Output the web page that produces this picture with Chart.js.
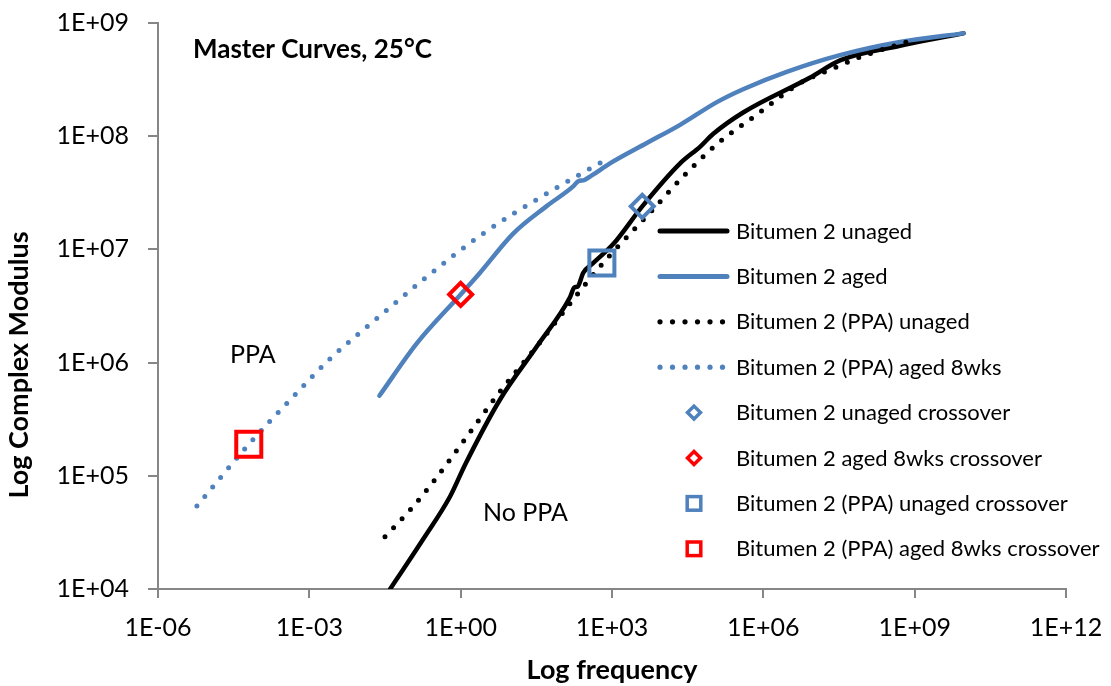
<!DOCTYPE html>
<html>
<head>
<meta charset="utf-8">
<title>Master Curves, 25°C</title>
<script src="https://cdn.jsdelivr.net/npm/chart.js@4.4.1/dist/chart.umd.min.js"></script>
<style>
  html, body { margin: 0; padding: 0; background: #fff; }
  #wrap { width: 1111px; height: 686px; position: relative; }
</style>
</head>
<body>
<div id="wrap"><canvas id="masterChart"></canvas></div>
<script>
// --- values ---
const xTicks = [1e-6, 1e-3, 1e0, 1e3, 1e6, 1e9, 1e12];
const yTicks = [1e4, 1e5, 1e6, 1e7, 1e8, 1e9];

const seriesNames = [
  'Bitumen 2 unaged',
  'Bitumen 2 aged',
  'Bitumen 2 (PPA) unaged',
  'Bitumen 2 (PPA) aged 8wks',
  'Bitumen 2 unaged crossover',
  'Bitumen 2 aged 8wks crossover',
  'Bitumen 2 (PPA) unaged crossover',
  'Bitumen 2 (PPA) aged 8wks crossover'
];

// Bitumen 2 unaged
const unagedFreq = [0.040, 0.072, 0.18, 0.62, 1.23, 6.0, 32, 148, 178, 209, 269, 427, 1070, 3980, 22400, 56200, 102000, 398000, 8.5e6, 3.4e7, 5.1e8, 9.3e9];
const unagedModulus = [1.0e4, 1.48e4, 2.75e4, 6.6e4, 1.26e5, 4.7e5, 1.38e6, 3.8e6, 4.6e6, 4.7e6, 6.2e6, 7.6e6, 1.12e7, 2.4e7, 5.75e7, 8.1e7, 1.05e8, 1.62e8, 3.3e8, 4.7e8, 6.3e8, 8.1e8];

// Bitumen 2 aged
const agedFreq = [0.0245, 0.135, 1, 2.4, 11, 50, 170, 214, 282, 398, 912, 4900, 22400, 120000, 398000, 2.9e6, 3.3e7, 5.1e8, 9.3e9];
const agedModulus = [5.1e5, 1.48e6, 4.0e6, 6.2e6, 1.38e7, 2.4e7, 3.6e7, 4.0e7, 4.1e7, 4.5e7, 5.75e7, 8.7e7, 1.26e8, 2.0e8, 2.6e8, 3.7e8, 5.2e8, 6.8e8, 8.1e8];

// Bitumen 2 (PPA) unaged
const ppaUnagedFreq = [0.0316, 0.1, 0.29, 1.12, 5.75, 34.7, 186, 537, 1700, 5620, 25700, 120000, 741000, 5.4e6, 2.9e7, 8.3e7, 6.9e8];
const ppaUnagedModulus = [2.9e4, 5.0e4, 8.9e4, 2.0e5, 5.4e5, 1.45e6, 3.8e6, 6.8e6, 1.2e7, 2.1e7, 4.4e7, 8.5e7, 1.55e8, 2.95e8, 4.1e8, 5.0e8, 6.8e8];

// Bitumen 2 (PPA) aged 8wks
const ppaAgedFreq = [5.9e-6, 6.3e-5, 5.0e-4, 2.4e-3, 3.1e-2, 0.18, 2.6, 44, 910];
const ppaAgedModulus = [5.4e4, 1.9e5, 5.1e5, 1.05e6, 2.8e6, 5.4e6, 1.35e7, 3.0e7, 6.5e7];

// crossover points, same order as the last four series names
const crossoverFreq = [3980, 1, 630, 6.3e-5];
const crossoverModulus = [2.4e7, 4.0e6, 7.6e6, 1.9e5];

const BLACK = '#000000';
const BLUE = '#4f81bd';
const RED = '#ff0000';
const AXIS_GREY = '#868686';
const FONT = 'Lato, "Open Sans", sans-serif';

function sci(v) {
    const e = Math.round(Math.log10(v));
    return '1E' + (e < 0 ? '-' : '+') + String(Math.abs(e)).padStart(2, '0');
}

function pts(xs, ys) {
    return xs.map((x, i) => ({ x: x, y: ys[i] }));
}

function lineSet(label, xs, ys, color, dotted, order) {
    return {
        label: label,
        data: pts(xs, ys),
        showLine: true,
        borderColor: color,
        backgroundColor: color,
        borderWidth: dotted ? 5 : 4.5,
        borderDash: dotted ? [0, 12.4] : [],
        borderCapStyle: 'round',
        borderJoinStyle: 'round',
        cubicInterpolationMode: 'monotone',
        pointRadius: 0,
        order: order
    };
}

function markerSet(i, color, style, radius) {
    return {
        label: seriesNames[4 + i],
        data: [{ x: crossoverFreq[i], y: crossoverModulus[i] }],
        showLine: false,
        pointStyle: style,
        pointRadius: radius,
        borderWidth: 4,
        borderColor: color,
        backgroundColor: 'rgba(0,0,0,0)',
        order: 1
    };
}

// legend + free text, drawn on top of the plot
const legendRows = [
    { kind: 'solid', color: BLACK },
    { kind: 'solid', color: BLUE },
    { kind: 'dots', color: BLACK },
    { kind: 'dots', color: BLUE },
    { kind: 'diamond', color: BLUE },
    { kind: 'diamond', color: RED },
    { kind: 'square', color: BLUE },
    { kind: 'square', color: RED }
];

const textPlugin = {
    id: 'textPlugin',
    afterDraw(chart) {
        const ctx = chart.ctx;
        ctx.save();
        ctx.fillStyle = '#000';
        ctx.textAlign = 'left';
        ctx.textBaseline = 'alphabetic';

        ctx.font = 'bold 26px ' + FONT;
        ctx.fillText('Master Curves, 25°C', 193, 58);

        ctx.font = '25px ' + FONT;
        ctx.fillText('PPA', 230, 363);
        ctx.fillText('No PPA', 483, 521);

        // y axis title sits lower than the axis centre
        ctx.save();
        ctx.translate(28, 365);
        ctx.rotate(-Math.PI / 2);
        ctx.textAlign = 'center';
        ctx.font = 'bold 27px ' + FONT;
        ctx.fillText('Log Complex Modulus', 0, 0);
        ctx.restore();

        // legend
        ctx.font = '22px ' + FONT;
        ctx.textBaseline = 'middle';
        legendRows.forEach((row, i) => {
            const y = 231 + i * 45.4;
            ctx.strokeStyle = row.color;
            ctx.setLineDash([]);
            if (row.kind === 'solid') {
                ctx.lineWidth = 5;
                ctx.lineCap = 'round';
                ctx.beginPath();
                ctx.moveTo(660, y);
                ctx.lineTo(727, y);
                ctx.stroke();
            } else if (row.kind === 'dots') {
                ctx.fillStyle = row.color;
                for (let k = 0; k < 6; k++) {
                    ctx.beginPath();
                    ctx.arc(660 + k * 12.5, y, 2.6, 0, Math.PI * 2);
                    ctx.fill();
                }
            } else if (row.kind === 'diamond') {
                ctx.lineWidth = 3.5;
                ctx.lineJoin = 'miter';
                ctx.beginPath();
                ctx.moveTo(694 - 6.5, y);
                ctx.lineTo(694, y - 6.5);
                ctx.lineTo(694 + 6.5, y);
                ctx.lineTo(694, y + 6.5);
                ctx.closePath();
                ctx.stroke();
            } else {
                ctx.lineWidth = 3.5;
                ctx.strokeRect(694 - 6.8, y - 6.8, 13.6, 13.6);
            }
            ctx.fillStyle = '#000';
            ctx.fillText(seriesNames[i], 736, y + 0.5);
        });
        ctx.restore();
    }
};

const ctx = document.getElementById('masterChart').getContext('2d');
new Chart(ctx, {
    type: 'scatter',
    data: {
        datasets: [
            lineSet(seriesNames[0], unagedFreq, unagedModulus, BLACK, false, 5),
            lineSet(seriesNames[1], agedFreq, agedModulus, BLUE, false, 4),
            lineSet(seriesNames[2], ppaUnagedFreq, ppaUnagedModulus, BLACK, true, 3),
            lineSet(seriesNames[3], ppaAgedFreq, ppaAgedModulus, BLUE, true, 2),
            markerSet(0, BLUE, 'rectRot', 11.5),
            markerSet(1, RED, 'rectRot', 11.5),
            markerSet(2, BLUE, 'rect', 17.7),
            markerSet(3, RED, 'rect', 17.7)
        ]
    },
    options: {
        responsive: true,
        maintainAspectRatio: false,
        animation: false,
        layout: { padding: { left: 0, right: 45, top: 23, bottom: 0 } },
        plugins: {
            legend: { display: false },
            tooltip: { enabled: false }
        },
        scales: {
            x: {
                type: 'logarithmic',
                min: 1e-6,
                max: 1e12,
                afterBuildTicks: s => { s.ticks = xTicks.map(v => ({ value: v })); },
                afterFit: s => { s.height = 97; s.paddingLeft = 0; s.paddingRight = 0; },
                border: { color: AXIS_GREY, width: 2 },
                grid: { drawOnChartArea: false, color: AXIS_GREY, lineWidth: 2, tickLength: 9 },
                ticks: {
                    callback: v => sci(v),
                    color: '#000',
                    font: { family: FONT, size: 25 },
                    padding: 15,
                    maxRotation: 0,
                    autoSkip: false
                },
                title: {
                    display: true,
                    text: 'Log frequency',
                    color: '#000',
                    font: { family: FONT, size: 27, weight: 'bold' },
                    padding: { top: 0, bottom: 0 }
                }
            },
            y: {
                type: 'logarithmic',
                min: 1e4,
                max: 1e9,
                afterBuildTicks: s => { s.ticks = yTicks.map(v => ({ value: v })); },
                afterFit: s => { s.width = 158; s.paddingTop = 0; s.paddingBottom = 0; },
                border: { color: AXIS_GREY, width: 2 },
                grid: { drawOnChartArea: false, color: AXIS_GREY, lineWidth: 2, tickLength: 10 },
                ticks: {
                    callback: v => sci(v),
                    color: '#000',
                    font: { family: FONT, size: 25 },
                    padding: 19,
                    autoSkip: false
                }
            }
        }
    },
    plugins: [textPlugin]
});
</script>
</body>
</html>
